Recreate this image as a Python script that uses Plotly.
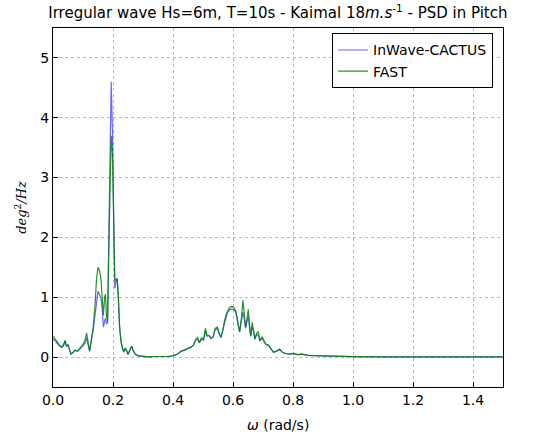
import plotly.graph_objects as go

omega = [0.000, 0.008, 0.015, 0.022, 0.030, 0.036, 0.040, 0.045, 0.050, 0.055,
         0.060, 0.068, 0.075, 0.082, 0.090, 0.098, 0.105, 0.112, 0.118, 0.122,
         0.128, 0.134, 0.140, 0.145, 0.150, 0.155, 0.160, 0.164, 0.168, 0.172,
         0.175, 0.178, 0.182, 0.186, 0.190, 0.194, 0.198, 0.202, 0.206, 0.210,
         0.214, 0.218, 0.222, 0.227, 0.232, 0.236, 0.240, 0.245, 0.250, 0.256,
         0.262, 0.268, 0.275, 0.285, 0.300, 0.320, 0.340, 0.360, 0.380, 0.400,
         0.415, 0.428, 0.440, 0.452, 0.460, 0.468, 0.476, 0.482, 0.488, 0.495,
         0.502, 0.508, 0.513, 0.520, 0.527, 0.534, 0.540, 0.548, 0.554, 0.560,
         0.566, 0.572, 0.580, 0.588, 0.596, 0.604, 0.610, 0.616, 0.622, 0.628,
         0.633, 0.638, 0.642, 0.647, 0.651, 0.655, 0.659, 0.664, 0.668, 0.673,
         0.679, 0.684, 0.690, 0.697, 0.703, 0.710, 0.718, 0.726, 0.735, 0.745,
         0.756, 0.765, 0.775, 0.790, 0.800, 0.815, 0.830, 0.850, 0.870, 0.900,
         0.930, 0.960, 1.000, 1.100, 1.200, 1.300, 1.400, 1.500]

inwave_cactus = [0.30, 0.27, 0.22, 0.18, 0.16, 0.20, 0.27, 0.18, 0.20, 0.12,
                 0.05, 0.08, 0.11, 0.10, 0.15, 0.18, 0.22, 0.32, 0.18, 0.10,
                 0.28, 0.45, 0.70, 0.95, 1.10, 1.05, 0.98, 0.80, 0.50, 0.60,
                 0.65, 0.55, 0.58, 2.00, 3.60, 4.60, 3.80, 2.20, 1.15, 1.25,
                 1.30, 0.95, 0.50, 0.25, 0.12, 0.10, 0.14, 0.10, 0.04, 0.10,
                 0.18, 0.10, 0.04, 0.02, 0.01, 0.005, 0.01, 0.005, 0.01, 0.02,
                 0.05, 0.10, 0.11, 0.15, 0.16, 0.20, 0.28, 0.30, 0.24, 0.30,
                 0.28, 0.44, 0.35, 0.36, 0.31, 0.34, 0.45, 0.48, 0.38, 0.33,
                 0.45, 0.60, 0.72, 0.79, 0.80, 0.79, 0.74, 0.56, 0.42, 0.60,
                 0.75, 0.62, 0.48, 0.60, 0.68, 0.50, 0.35, 0.50, 0.45, 0.30,
                 0.38, 0.36, 0.27, 0.33, 0.26, 0.21, 0.20, 0.14, 0.08, 0.10,
                 0.13, 0.08, 0.06, 0.05, 0.06, 0.04, 0.05, 0.03, 0.03, 0.02,
                 0.015, 0.01, 0.008, 0.005, 0.004, 0.003, 0.003, 0.002]

fast = [0.35, 0.30, 0.25, 0.20, 0.17, 0.22, 0.28, 0.18, 0.21, 0.13,
        0.05, 0.09, 0.12, 0.10, 0.16, 0.20, 0.25, 0.40, 0.22, 0.10,
        0.30, 0.50, 0.85, 1.30, 1.50, 1.45, 1.30, 1.00, 0.70, 1.00,
        1.05, 0.70, 0.60, 1.80, 3.00, 3.70, 3.40, 2.30, 1.30, 1.28,
        1.32, 1.00, 0.50, 0.25, 0.14, 0.08, 0.15, 0.12, 0.05, 0.12,
        0.18, 0.10, 0.05, 0.02, 0.01, 0.005, 0.01, 0.008, 0.01, 0.02,
        0.05, 0.10, 0.12, 0.15, 0.17, 0.20, 0.30, 0.33, 0.24, 0.32,
        0.30, 0.48, 0.36, 0.36, 0.32, 0.34, 0.48, 0.50, 0.40, 0.33,
        0.45, 0.62, 0.75, 0.82, 0.85, 0.82, 0.76, 0.55, 0.42, 0.65,
        0.95, 0.70, 0.50, 0.65, 0.80, 0.55, 0.35, 0.58, 0.48, 0.30,
        0.40, 0.42, 0.27, 0.34, 0.26, 0.21, 0.20, 0.14, 0.08, 0.10,
        0.13, 0.08, 0.06, 0.05, 0.06, 0.04, 0.05, 0.03, 0.03, 0.02,
        0.015, 0.01, 0.008, 0.005, 0.004, 0.003, 0.003, 0.002]

x_ticks = [0.0, 0.2, 0.4, 0.6, 0.8, 1.0, 1.2, 1.4]
y_ticks = [0, 1, 2, 3, 4, 5]

fig = go.Figure()
fig.add_trace(go.Scatter(x=omega, y=inwave_cactus, mode="lines", name="InWave-CACTUS",
                         line=dict(color="rgba(0,0,255,0.6)", width=1.2)))
fig.add_trace(go.Scatter(x=omega, y=fast, mode="lines", name="FAST",
                         line=dict(color="rgba(0,128,0,0.85)", width=1.2)))

font_main = "DejaVu Sans, Verdana, sans-serif"
fig.update_layout(
    width=547, height=435,
    margin=dict(l=53, r=44, t=28, b=48, autoexpand=False),
    paper_bgcolor="white", plot_bgcolor="white",
    font=dict(family=font_main, size=14, color="black"),
    title=dict(text="Irregular wave Hs=6m, T=10s - Kaimal 18<i>m.s</i><sup>-1</sup> - PSD in Pitch",
               x=0.508, xanchor="center", y=0.97, yanchor="middle",
               font=dict(family=font_main, size=15)),
    showlegend=True,
    legend=dict(x=0.62, y=0.985, xanchor="left", yanchor="top",
                bgcolor="white", bordercolor="black", borderwidth=1,
                font=dict(family=font_main, size=14), tracegroupgap=0),
)
fig.add_annotation(text="<i>ω</i> (rad/s)", xref="paper", yref="paper",
                   x=0.5, y=-0.106, xanchor="center", yanchor="middle",
                   showarrow=False, font=dict(family=font_main, size=14))
fig.update_xaxes(
    range=[0, 1.5], tickvals=x_ticks, ticktext=[f"{v:.1f}" for v in x_ticks],
    showline=True, linecolor="black", linewidth=1, mirror=True,
    ticks="inside", ticklen=5, tickcolor="black",
    showgrid=True, gridcolor="#b8b8b8", griddash="dot", gridwidth=1,
    zeroline=False,
)
fig.update_yaxes(
    range=[-0.5, 5.5], tickvals=y_ticks, ticktext=[str(v) for v in y_ticks],
    showline=True, linecolor="black", linewidth=1, mirror=True,
    ticks="inside", ticklen=5, tickcolor="black",
    showgrid=True, gridcolor="#b8b8b8", griddash="dot", gridwidth=1,
    zeroline=False,
    title=dict(text="<i>deg</i><sup>2</sup><i>/Hz</i>", standoff=10,
               font=dict(family="DejaVu Serif, serif", size=13)),
)

fig.write_html("out.html")
